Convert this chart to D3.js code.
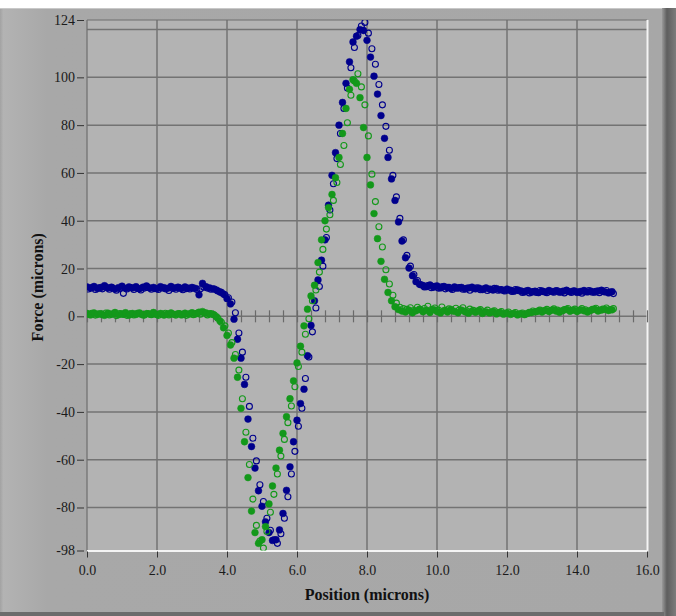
<!DOCTYPE html>
<html>
<head>
<meta charset="utf-8">
<script src="https://cdn.jsdelivr.net/npm/d3@7"></script>
<style>
  html, body { margin: 0; padding: 0; background: #ffffff; }
  svg { display: block; }
  .tick text { font-family: "Liberation Serif", "Times New Roman", serif; font-size: 14px; fill: #1a1a1a; }
  .title { font-family: "Liberation Serif", "Times New Roman", serif; font-size: 16px; font-weight: bold; fill: #111; }
</style>
</head>
<body>
<svg id="chart" width="676" height="616"></svg>
<script>
// Scan sampled every 0.1 micron from 0.0 to 15.0; the return trace (open markers)
// is recorded 0.04 micron later than the forward trace (filled markers).
const scanStart = 0.0;
const scanStep = 0.1;
const returnOffset = 0.04;

// Blue channel, forward trace
const blueForward = [
  12.3, 11.8, 12.5, 11.6, 12.1, 12.8, 11.9, 12.2, 11.4, 12.0,
  12.6, 11.7, 12.3, 11.9, 12.4, 11.5, 12.2, 12.7, 11.8, 12.1,
  11.6, 12.4, 12.0, 11.7, 12.5, 11.9, 12.2, 11.6, 12.3, 11.8,
  12.1, 11.7, 9.0, 13.8, 12.4, 11.9, 11.5, 11.0, 10.2, 9.3,
  7.4, 5.2, -1.2, -9.6, -17.5, -28.5, -43.0, -54.5, -63.5, -73.0,
  -79.5, -86.0, -90.5, -93.8, -93.5, -89.4, -82.5, -72.8, -63.0, -52.5,
  -43.5, -36.5, -30.5, -16.5, -3.8, 6.5, 15.2, 23.5, 32.0, 46.5,
  59.0, 68.5, 80.0, 89.5, 97.5, 106.5, 114.8, 117.2, 120.0, 119.6,
  115.5, 108.5, 100.5, 93.0, 84.0, 74.5, 66.5, 57.5, 48.5, 39.5,
  31.5, 24.5, 20.2, 17.0, 14.5, 13.4, 12.9, 12.4, 13.1, 12.2,
  12.7, 11.9, 12.5, 12.0, 11.6, 12.3, 11.8, 12.1, 11.4, 11.9,
  12.2, 11.5, 11.8, 11.2, 11.9, 11.4, 11.0, 11.6, 11.1, 10.8,
  11.4, 10.9, 10.5, 11.1, 10.6, 10.2, 10.8, 10.1, 10.5, 9.9,
  10.6, 10.2, 10.8, 10.3, 10.7, 10.1, 10.5, 10.9, 10.3, 10.6,
  10.0, 10.4, 10.8, 10.2, 10.5, 10.1, 10.6, 10.9, 10.2, 9.8,
  10.3
];

// Blue channel, return trace
const blueReturn = [
  11.4, 12.0, 11.2, 11.9, 11.5, 12.2, 11.3, 11.8, 10.9, 11.6,
  9.6, 11.4, 12.0, 11.2, 11.7, 11.0, 11.8, 12.1, 11.3, 11.6,
  11.2, 11.9, 11.5, 10.8, 11.7, 11.3, 11.9, 11.1, 11.6, 11.4,
  11.8, 11.2, 11.5, 12.2, 11.8, 11.3, 11.4, 10.6, 10.0, 9.0,
  7.8, 6.0, 1.5, -7.0, -15.0, -25.5, -37.7, -51.0, -60.5, -70.5,
  -77.5, -84.5, -89.5, -93.5, -95.0, -91.0, -84.5, -75.5, -66.0, -56.5,
  -46.0, -38.5, -26.0, -17.0, -6.5, 3.5, 12.5, 21.0, 33.0, 44.5,
  55.5, 66.0, 76.5, 87.0, 95.5, 104.0, 112.5, 117.5, 121.5, 123.0,
  118.5, 112.0, 105.5, 97.0, 88.5, 79.5, 69.5, 59.0, 50.0, 41.0,
  32.0, 25.5, 21.0, 17.5, 15.0, 13.2, 12.3, 12.9, 12.0, 12.6,
  11.8, 12.4, 11.5, 12.1, 11.2, 11.8, 12.0, 11.3, 11.7, 10.9,
  11.6, 11.9, 11.1, 11.5, 10.8, 11.3, 11.7, 10.9, 11.2, 10.6,
  11.0, 10.4, 11.2, 10.7, 10.0, 10.6, 9.8, 10.4, 10.0, 10.8,
  10.3, 9.9, 10.5, 10.1, 10.7, 10.2, 9.8, 10.4, 10.0, 10.6,
  10.2, 9.7, 10.3, 10.8, 10.1, 10.5, 9.9, 10.4, 10.8, 10.0,
  9.5
];

// Green channel, forward trace
const greenForward = [
  1.2, 0.6, 1.4, 0.8, 1.1, 0.4, 1.3, 0.9, 1.6, 0.7,
  1.0, 1.5, 0.5, 1.2, 0.8, 1.4, 0.6, 1.1, 0.9, 1.6,
  0.7, 1.2, 0.5, 1.0, 1.4, 0.8, 1.1, 0.6, 1.3, 0.9,
  1.5, 1.0, 1.7, 2.0, 1.4, 1.0, 0.8, -0.2, -2.0, -4.8,
  -8.0, -12.0, -17.5, -25.5, -38.5, -52.5, -67.5, -81.5, -90.5, -95.0,
  -93.5, -88.0, -78.5, -71.0, -63.5, -56.0, -49.0, -42.0, -34.5, -27.0,
  -19.5, -12.5, -4.0, 3.0, 8.5, 13.0, 22.5, 32.0, 40.0, 45.5,
  51.0, 58.0, 66.5, 76.5, 87.0, 95.0, 99.0, 97.5, 91.5, 79.0,
  66.5, 55.0, 43.0, 32.5, 23.0, 15.5, 10.0, 6.5, 4.0, 2.8,
  2.2, 1.8, 2.6, 1.5, 2.3, 3.0, 1.9, 2.5, 1.6, 2.8,
  2.0, 1.4, 2.4, 1.8, 2.9, 2.1, 1.5, 2.6, 1.9, 1.3,
  2.2, 1.7, 2.5, 1.2, 1.9, 1.4, 2.1, 1.0, 1.6, 0.9,
  1.4, 0.8, 1.2, 0.6, 1.1, 0.7, 1.3, 1.6, 1.9, 2.3,
  1.8, 2.5, 2.0, 2.7, 2.2, 1.7, 2.4, 2.9, 2.1, 2.6,
  2.0, 2.7, 2.3, 1.8, 2.5, 3.0, 2.2, 2.6, 2.9, 2.4,
  2.7
];

// Green channel, return trace
const greenReturn = [
  0.9, 1.3, 0.5, 1.1, 0.7, 1.4, 0.6, 1.0, 0.3, 1.2,
  0.8, 0.4, 1.1, 0.6, 1.3, 0.9, 0.5, 1.2, 0.7, 1.0,
  0.4, 0.9, 1.3, 0.6, 1.0, 0.5, 1.2, 0.8, 0.4, 1.1,
  0.7, 1.3, 0.9, 1.5, 0.6, 1.2, 0.5, -0.8, -2.5, -4.0,
  -7.0, -11.0, -16.0, -22.5, -34.5, -48.5, -62.0, -76.5, -87.5, -94.0,
  -97.0, -90.0, -82.0, -74.5, -66.0, -58.5, -51.5, -44.5, -37.5, -29.5,
  -21.0, -15.0, -7.5, -1.0, 6.5, 11.0, 18.5, 28.0, 36.5, 42.5,
  48.5, 56.0, 63.5, 71.5, 81.0, 92.5, 98.5, 101.5, 96.0, 88.5,
  75.5, 59.5, 48.0, 37.5, 29.0, 19.5, 13.5, 8.8, 5.5, 3.8,
  3.2, 2.9, 3.6, 2.4, 3.8, 2.7, 3.3, 4.2, 2.8, 3.5,
  2.6, 3.9, 2.5, 3.1, 2.2, 3.4, 2.7, 3.6, 2.3, 3.0,
  2.5, 2.0, 2.8, 1.9, 2.6, 1.6, 2.3, 1.5, 2.0, 1.2,
  1.8, 1.1, 1.6, 0.9, 1.4, 1.0, 1.7, 2.2, 1.9, 2.6,
  2.3, 2.9, 2.4, 3.1, 2.6, 2.2, 2.8, 3.3, 2.5, 3.0,
  2.4, 3.2, 2.7, 2.2, 2.9, 3.4, 2.6, 3.0, 3.5, 2.8,
  3.2
];

// Axis ticks
const xTickValues = [0, 2, 4, 6, 8, 10, 12, 14, 16];
const yTickValues = [124, 100, 80, 60, 40, 20, 0, -20, -40, -60, -80, -98];
const yGridValues = [120, 100, 80, 60, 40, 20, 0, -20, -40, -60, -80];
const xGridValues = [2, 4, 6, 8, 10, 12, 14];
const zeroLineMinorTicks = [0, 0.4, 0.8, 1.2, 1.6, 2, 2.4, 2.8, 3.2, 3.6, 4, 4.4, 4.8, 5.2, 5.6, 6,
  6.4, 6.8, 7.2, 7.6, 8, 8.4, 8.8, 9.2, 9.6, 10, 10.4, 10.8, 11.2, 11.6, 12, 12.4, 12.8,
  13.2, 13.6, 14, 14.4, 14.8, 15.2, 15.6, 16];

const BLUE = "#00008c";
const GREEN = "#13981a";

const svg = d3.select("#chart");
const W = 676, H = 616;
const plot = { left: 87, right: 647, top: 20, bottom: 550.5 };

const x = d3.scaleLinear().domain([0, 16]).range([plot.left, plot.right]);
const y = d3.scaleLinear().domain([-98, 124]).range([plot.bottom, plot.top]);

const defs = svg.append("defs");
const panelGrad = defs.append("linearGradient").attr("id", "panelGrad")
  .attr("x1", 0).attr("x2", 1).attr("y1", 0).attr("y2", 0);
panelGrad.append("stop").attr("offset", "0%").attr("stop-color", "#a2a2a2");
panelGrad.append("stop").attr("offset", "0.5%").attr("stop-color", "#b3b3b3");
panelGrad.append("stop").attr("offset", "4%").attr("stop-color", "#adadad");
panelGrad.append("stop").attr("offset", "7%").attr("stop-color", "#a8a8a8");
panelGrad.append("stop").attr("offset", "100%").attr("stop-color", "#a7a7a7");

const edgeGrad = defs.append("linearGradient").attr("id", "edgeGrad")
  .attr("x1", 0).attr("x2", 1).attr("y1", 0).attr("y2", 0);
edgeGrad.append("stop").attr("offset", "0%").attr("stop-color", "#9a9a9a");
edgeGrad.append("stop").attr("offset", "35%").attr("stop-color", "#5e5e5e");
edgeGrad.append("stop").attr("offset", "100%").attr("stop-color", "#7c7c7c");

defs.append("clipPath").attr("id", "plotClip")
  .append("rect")
  .attr("x", plot.left).attr("y", plot.top)
  .attr("width", plot.right - plot.left).attr("height", plot.bottom - plot.top);

// Panel frame
svg.append("rect").attr("x", 0).attr("y", 8).attr("width", 664).attr("height", W)
  .attr("fill", "url(#panelGrad)");
svg.append("line").attr("x1", 0).attr("x2", 664).attr("y1", 8.5).attr("y2", 8.5)
  .attr("stroke", "#c8c8c8").attr("stroke-width", 1);
svg.append("rect").attr("x", 662).attr("y", 8).attr("width", 14).attr("height", H - 8)
  .attr("fill", "url(#edgeGrad)");
svg.append("rect").attr("x", 0).attr("y", 612).attr("width", 664).attr("height", 4)
  .attr("fill", "#6c6c6c");

// Plot area
svg.append("rect")
  .attr("x", plot.left).attr("y", plot.top)
  .attr("width", plot.right - plot.left).attr("height", plot.bottom - plot.top)
  .attr("fill", "#b3b3b3");

const grid = svg.append("g").attr("stroke", "#737373").attr("stroke-width", 1.5);
grid.selectAll("line.h").data(yGridValues).join("line").attr("class", "h")
  .attr("x1", plot.left).attr("x2", plot.right)
  .attr("y1", d => y(d)).attr("y2", d => y(d));
grid.selectAll("line.v").data(xGridValues).join("line").attr("class", "v")
  .attr("y1", plot.top).attr("y2", plot.bottom)
  .attr("x1", d => x(d)).attr("x2", d => x(d));

// Plot border: dark top/left, light bottom/right
svg.append("line").attr("x1", plot.left).attr("x2", plot.right).attr("y1", plot.top).attr("y2", plot.top)
  .attr("stroke", "#6e6e6e").attr("stroke-width", 1.2);
svg.append("line").attr("x1", plot.left).attr("x2", plot.left).attr("y1", plot.top).attr("y2", plot.bottom)
  .attr("stroke", "#6e6e6e").attr("stroke-width", 1.2);
svg.append("line").attr("x1", plot.left).attr("x2", plot.right + 1).attr("y1", plot.bottom + 0.5).attr("y2", plot.bottom + 0.5)
  .attr("stroke", "#f4f4f4").attr("stroke-width", 2);
svg.append("line").attr("x1", plot.right + 0.5).attr("x2", plot.right + 0.5).attr("y1", plot.top).attr("y2", plot.bottom + 1)
  .attr("stroke", "#f4f4f4").attr("stroke-width", 2);

// Minor ticks along the zero line
const zeroAxis = svg.append("g")
  .attr("transform", `translate(0,${y(0) - 6})`)
  .call(d3.axisBottom(x).tickValues(zeroLineMinorTicks).tickSize(12).tickFormat(""));
zeroAxis.select(".domain").remove();
zeroAxis.selectAll(".tick line").attr("stroke", "#6a6a6a").attr("stroke-width", 1.2);

// Left axis (plain hyphen for negative labels)
const leftAxis = svg.append("g")
  .attr("transform", `translate(84,0)`)
  .call(d3.axisLeft(y).tickValues(yTickValues).tickSize(7).tickPadding(2).tickFormat(d => String(d)));
leftAxis.select(".domain").remove();
leftAxis.selectAll(".tick line").attr("stroke", "#333");

// Bottom axis
const bottomAxis = svg.append("g")
  .attr("transform", `translate(0,${plot.bottom + 1})`)
  .call(d3.axisBottom(x).tickValues(xTickValues).tickSize(6).tickPadding(7.5).tickFormat(d => d.toFixed(1)));
bottomAxis.select(".domain").remove();
bottomAxis.selectAll(".tick line").attr("stroke", "#333");

// Data markers
const marks = svg.append("g").attr("clip-path", "url(#plotClip)");
function drawSeries(values, offset, color, filled) {
  const pts = values.map((v, i) => ({ pos: scanStart + i * scanStep + offset, v }));
  marks.append("g").selectAll("circle").data(pts).join("circle")
    .attr("cx", d => x(d.pos))
    .attr("cy", d => y(d.v))
    .attr("r", filled ? 3.4 : 3.0)
    .attr("fill", filled ? color : "none")
    .attr("stroke", color)
    .attr("stroke-width", filled ? 0.5 : 1.1);
}
drawSeries(blueReturn, returnOffset, BLUE, false);
drawSeries(blueForward, 0, BLUE, true);
drawSeries(greenReturn, returnOffset, GREEN, false);
drawSeries(greenForward, 0, GREEN, true);

// Axis titles
svg.append("text").attr("class", "title")
  .attr("x", (plot.left + plot.right) / 2).attr("y", 600)
  .attr("text-anchor", "middle").text("Position (microns)");
svg.append("text").attr("class", "title")
  .attr("transform", `translate(43,${(plot.top + plot.bottom) / 2 + 2}) rotate(-90)`)
  .attr("text-anchor", "middle").text("Force (microns)");
</script>
</body>
</html>
